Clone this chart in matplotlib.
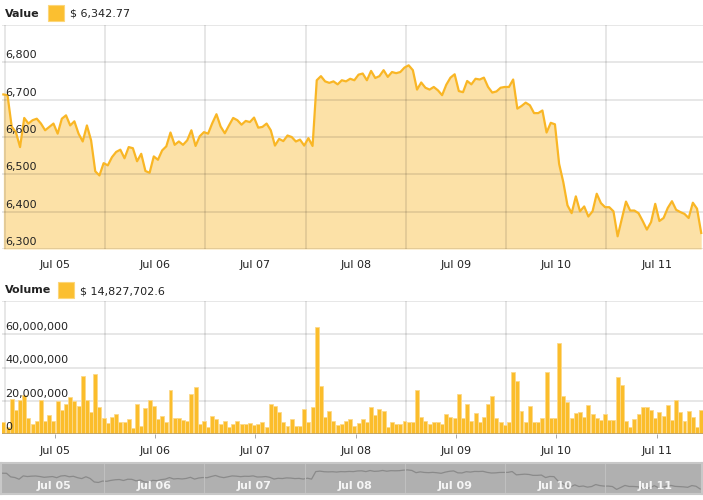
import numpy as np
import matplotlib.pyplot as plt

# hourly price, Jul 05 - Jul 11
price = [6714, 6712, 6628, 6613, 6573, 6651, 6636, 6645, 6649, 6636,
         6618, 6627, 6636, 6609, 6649, 6658, 6631, 6642, 6609, 6588,
         6631, 6591, 6508, 6497, 6530, 6524, 6546, 6560, 6566, 6543,
         6573, 6570, 6535, 6555, 6509, 6504, 6548, 6539, 6564, 6575,
         6612, 6579, 6588,
         6579, 6591, 6618, 6576, 6602, 6613, 6609, 6637, 6661, 6628,
         6610, 6631, 6651, 6645, 6633, 6643, 6640, 6652, 6625, 6627,
         6636, 6618, 6577, 6595, 6589, 6604, 6600, 6588, 6593, 6577,
         6597, 6576, 6752, 6763, 6749, 6745, 6749, 6741, 6752, 6749,
         6756, 6752,
         6767, 6770, 6752, 6777, 6758, 6763, 6779, 6761, 6774, 6771,
         6774, 6786, 6792, 6779, 6727, 6746, 6732, 6727, 6734, 6725,
         6712, 6740, 6759, 6768, 6723, 6720, 6750, 6741, 6756, 6754,
         6759, 6734, 6719, 6722, 6732, 6734, 6734, 6754, 6676, 6683,
         6692, 6685,
         6664, 6664, 6671, 6612, 6638, 6634, 6528, 6479, 6417, 6396,
         6441, 6401, 6414, 6387, 6401, 6448, 6423, 6412, 6412, 6401,
         6334, 6381, 6427, 6403, 6403, 6396, 6375, 6352, 6372, 6421,
         6375, 6383, 6410, 6428, 6405, 6399, 6394, 6383, 6424, 6408,
         6343]

# hourly volume in millions
volume = [7.5, 4.0, 21.0, 14.5, 20.6, 23.6, 9.5, 5.9, 7.9, 20.6,
          7.9, 11.5, 7.9, 20.0, 14.5, 18.0, 22.4, 20.0, 17.0, 35.0,
          20.4, 13.5, 35.8, 16.2, 9.5, 6.9, 10.5, 12.0, 7.0, 7.5,
          8.9, 3.4, 18.0, 5.0, 15.6, 20.4, 16.6, 9.1, 10.9, 7.5,
          26.5, 9.9, 9.5, 8.3, 8.1, 24.0, 28.0, 6.3, 8.1, 4.4,
          11.1, 9.1, 5.9, 8.1, 4.4, 5.9, 8.1, 5.9, 5.9, 6.9,
          5.5, 5.9, 7.0, 4.4, 18.0, 16.8, 13.1, 7.0, 5.0, 8.9,
          5.0, 5.0, 15.0, 7.0, 16.0, 64.4, 28.7, 10.5, 14.1, 8.1,
          5.5, 5.9, 8.1, 8.9,
          5.0, 6.5, 8.9, 7.5, 16.2, 11.5, 15.0, 14.1, 4.4, 7.0,
          5.9, 5.9, 8.1, 7.0, 7.0, 26.5, 10.5, 8.1, 6.3, 7.0,
          7.5, 6.3, 12.0, 10.1, 9.5, 24.0, 9.5, 18.0, 8.1, 12.5,
          7.0, 10.1, 18.0, 22.6, 9.5, 7.0, 5.5, 7.0, 37.4, 31.7,
          13.9, 7.5, 16.6, 7.5, 7.5, 9.5, 37.4, 9.9, 9.5, 55.0,
          22.6, 19.0, 9.9, 12.5, 13.1, 10.5, 17.2, 12.0, 9.5, 8.5,
          12.0, 8.3, 8.3, 34.1, 29.3, 8.1, 4.4, 8.9, 12.0, 16.0,
          16.0, 14.3, 9.5, 13.5, 11.1, 17.2, 8.3, 20.2, 13.1, 8.1,
          14.1, 10.5, 4.4, 14.7]

day_labels = ['Jul 05', 'Jul 06', 'Jul 07', 'Jul 08', 'Jul 09', 'Jul 10', 'Jul 11']
price_ticks = [6300, 6400, 6500, 6600, 6700, 6800, 6900]
volume_ticks = [0, 20, 40, 60, 80]
last_value = '$ 6,342.77'
last_volume = '$ 14,827,702.6'

W, H = 703, 500
gold = '#f9b625'
bar_col = '#fbbd2b'
txt = '#222222'

hours = np.arange(len(price)) - 0.33
vol = np.array(volume) * 1e6
day_edges = np.arange(0, 24 * len(day_labels), 24)
day_mid = day_edges + 12
xlim = (-0.65, 167.1)

fig = plt.figure(figsize=(W / 100, H / 100), dpi=100)


def px_axes(l, t, r, b):
    return fig.add_axes([l / W, 1 - b / H, (r - l) / W, (b - t) / H])


def px_text(x, y, s, **kw):
    fig.text(x / W, 1 - y / H, s, **kw)


def style(ax):
    for sp in ax.spines.values():
        sp.set_visible(False)
    ax.set_xlim(*xlim)
    ax.set_xticks(day_edges)
    ax.set_xticklabels([])
    ax.tick_params(axis='both', which='major', length=0)
    ax.set_yticklabels([])
    ax.grid(True, color='black', alpha=0.1, lw=1.3)


# ---- price panel
ax1 = px_axes(2, 25, 703, 249)
ax1.fill_between(hours, price, 6300, color=gold, alpha=0.4, lw=0, zorder=1)
ax1.plot(hours, price, color=gold, lw=1.6, zorder=3)
ax1.set_ylim(6300, 6900)
ax1.set_yticks(price_ticks)
style(ax1)
ax1.set_axisbelow(False)
ax1.set_xticks(day_mid, minor=True)
ax1.set_xticklabels(day_labels, minor=True, fontsize=8, color=txt)
ax1.tick_params(axis='x', which='minor', length=0, pad=8)
for v in price_ticks[:-1]:
    ax1.annotate(f'{v:,}', xy=(0, v), xycoords=ax1.get_yaxis_transform(),
                 xytext=(2.5, 1.5), textcoords='offset points',
                 fontsize=8, color=txt, va='bottom', ha='left', zorder=5)

px_text(5, 14, 'Value', fontsize=8, fontweight='bold', color=txt, va='center')
fig.patches.append(plt.Rectangle((48 / W, 1 - 21 / H), 16 / W, 16 / H,
                                 transform=fig.transFigure, facecolor='#fbbf30',
                                 edgecolor='#fcd67a', lw=0.8))
px_text(70, 14, last_value, fontsize=8, color=txt, va='center')

# ---- volume panel
ax2 = px_axes(2, 301, 703, 434)
ax2.bar(hours, vol, width=0.95, color=bar_col, edgecolor='#fcd98a', lw=0.6, zorder=2)
ax2.set_ylim(0, 80e6)
ax2.set_yticks([v * 1e6 for v in volume_ticks])
style(ax2)
ax2.set_axisbelow(True)
ax2.axhline(0, color='#b8a070', lw=1.2, zorder=3)
ax2.set_xticks(day_mid, minor=True)
ax2.set_xticklabels(day_labels, minor=True, fontsize=8, color=txt)
ax2.tick_params(axis='x', which='minor', length=3, color='#999999', pad=6)
for v in volume_ticks[:-1]:
    ax2.annotate(f'{int(v * 1e6):,}', xy=(0, v * 1e6), xycoords=ax2.get_yaxis_transform(),
                 xytext=(2.5, 1.5), textcoords='offset points',
                 fontsize=8, color=txt, va='bottom', ha='left', zorder=5)

px_text(5, 290, 'Volume', fontsize=8, fontweight='bold', color=txt, va='center')
fig.patches.append(plt.Rectangle((58 / W, 1 - 298 / H), 16 / W, 16 / H,
                                 transform=fig.transFigure, facecolor='#fbbf30',
                                 edgecolor='#fcd67a', lw=0.8))
px_text(80, 291, last_volume, fontsize=8, color=txt, va='center')

# ---- navigator
ax3 = px_axes(1, 463, 702, 494)
ax3.set_facecolor('#b0b0b0')
ax3.plot(hours, price, color='#8a8a8a', lw=0.9)
ax3.set_ylim(6226, 6954)
ax3.set_xlim(*xlim)
ax3.set_xticks([])
ax3.set_yticks([])
for d in day_edges[1:]:
    ax3.axvline(d, color='#c0c0c0', lw=0.8)
for sp in ax3.spines.values():
    sp.set_color('#c8c8c8')
    sp.set_linewidth(1.5)
for m, lab in zip(day_mid, day_labels):
    ax3.text(m, 0.27, lab, transform=ax3.get_xaxis_transform(), ha='center',
             va='center', fontsize=8, color='#f4f4f4', fontweight='bold')

fig.savefig('out.png', dpi=100)
